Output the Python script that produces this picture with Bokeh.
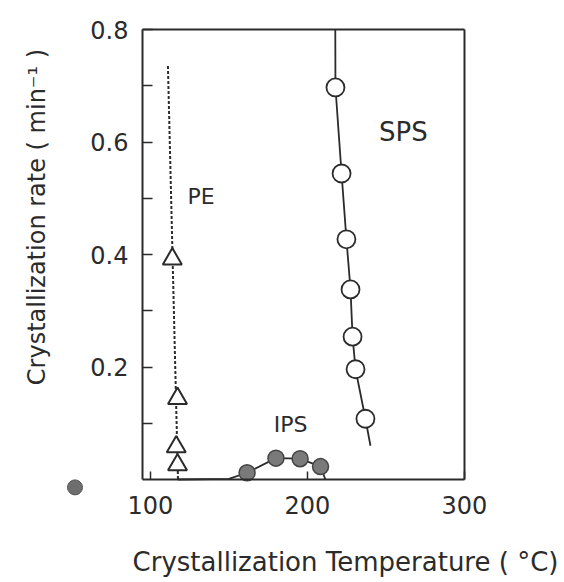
import math
from bokeh.plotting import figure
from bokeh.models import LinearAxis, FixedTicker, Range1d, Label
from bokeh.core.properties import value
from bokeh.embed import file_html
from bokeh.resources import INLINE

# ---------------- data ----------------
# PE : open triangles, dashed line
pe_x = [114.0, 117.3, 116.5, 117.3]
pe_y = [0.392, 0.144, 0.058, 0.026]
pe_line_x = [111.2, 117.6]
pe_line_y = [0.735, 0.0]

# SPS : open circles, solid line
sps_x = [217.9, 221.8, 224.9, 227.5, 228.8, 230.7, 237.0]
sps_y = [0.697, 0.544, 0.427, 0.338, 0.254, 0.196, 0.108]
sps_top = (217.8, 0.8)
sps_end = (240.2, 0.06)

# IPS : filled grey circles, solid line
ips_x = [161.6, 180.0, 195.4, 208.4]
ips_y = [0.012, 0.038, 0.037, 0.023]
ips_start_x = [117.5, 150.0]
ips_start_y = [0.0, 0.001]
ips_end = (211.5, 0.0)
ips_extra_x = [52.0]
ips_extra_y = [-0.014]

x_ticks = [100, 200, 300]
y_ticks = [0.2, 0.4, 0.6, 0.8]
y_minor = [0.1, 0.3, 0.5, 0.7]
x_lim = (95, 300)
y_lim = (0.0, 0.8)

FONT = "DejaVu Sans"
INK = "#2b2b2b"

p = figure(width=564, height=582,
           x_range=Range1d(4.55, 363.8), y_range=Range1d(-0.1831, 0.8516),
           output_backend="svg", toolbar_location=None,
           x_axis_location=None, y_axis_location=None,
           min_border=0, outline_line_color=None,
           background_fill_color="white", border_fill_color="white")
p.grid.visible = False

def style_axis(ax, labels=True, tick_in=10):
    ax.axis_line_color = INK
    ax.axis_line_width = 2
    ax.major_tick_in = tick_in
    ax.major_tick_out = 0
    ax.minor_tick_in = tick_in
    ax.minor_tick_out = 0
    ax.major_tick_line_color = INK
    ax.minor_tick_line_color = INK
    ax.major_tick_line_width = 1.5
    ax.minor_tick_line_width = 1.5
    ax.major_label_text_font = FONT
    ax.major_label_text_font_size = "24px"
    ax.major_label_text_color = INK if labels else None

# left axis
yl = LinearAxis(fixed_location=x_lim[0], bounds=y_lim,
                ticker=FixedTicker(ticks=y_ticks, minor_ticks=y_minor))
style_axis(yl)
yl.major_label_standoff = 14
p.add_layout(yl, "left")

# right border
yr = LinearAxis(fixed_location=x_lim[1], bounds=y_lim,
                ticker=FixedTicker(ticks=[]))
style_axis(yr, labels=False, tick_in=0)
p.add_layout(yr, "right")

# bottom axis
xb = LinearAxis(fixed_location=y_lim[0], bounds=x_lim,
                ticker=FixedTicker(ticks=x_ticks))
style_axis(xb, tick_in=8)
xb.major_label_standoff = 16
p.add_layout(xb, "below")

# top border
xt = LinearAxis(fixed_location=y_lim[1], bounds=x_lim,
                ticker=FixedTicker(ticks=[]))
style_axis(xt, labels=False, tick_in=0)
p.add_layout(xt, "above")

# PE
p.line(pe_line_x, pe_line_y, line_color=INK, line_width=2, line_dash="3 2")
p.scatter(pe_x, pe_y, marker="triangle", size=19, fill_color="white",
          line_color=INK, line_width=2)

# IPS
ips_line_x = ips_start_x + ips_x + [ips_end[0]]
ips_line_y = ips_start_y + ips_y + [ips_end[1]]
p.line(ips_line_x, ips_line_y, line_color=INK, line_width=1.8)
p.scatter(ips_x, ips_y, marker="circle", size=16, fill_color="#7a7a7a",
          line_color="#444444", line_width=1.5)
p.scatter(ips_extra_x, ips_extra_y, marker="circle", size=15, fill_color="#6e6e6e",
          line_color="#555555", line_width=1)

# SPS
sps_line_x = [sps_top[0]] + sps_x + [sps_end[0]]
sps_line_y = [sps_top[1]] + sps_y + [sps_end[1]]
p.line(sps_line_x, sps_line_y, line_color=INK, line_width=1.8)
p.scatter(sps_x, sps_y, marker="circle", size=18, fill_color="white",
          line_color=INK, line_width=1.8)

# series labels
p.add_layout(Label(x=123.7, y=0.503, text="PE", text_font=FONT, text_font_size="22px",
                   text_color=INK, text_align="left", text_baseline="middle"))
p.add_layout(Label(x=189.3, y=0.098, text="IPS", text_font=FONT, text_font_size="22px",
                   text_color=INK, text_align="center", text_baseline="middle"))
p.add_layout(Label(x=261.2, y=0.617, text="SPS", text_font=FONT, text_font_size="26px",
                   text_color=INK, text_align="center", text_baseline="middle"))

# axis titles
p.add_layout(Label(x=224.3, y=-0.1458, text="Crystallization Temperature ( \u00b0C)",
                   text_font=FONT, text_font_size="26px", text_color=INK,
                   text_align="center", text_baseline="middle"))
p.add_layout(Label(x=27.5, y=0.4667, text="Crystallization rate ( min\u207b\u00b9 )",
                   angle=math.pi / 2, text_font=FONT, text_font_size="24px",
                   text_color=INK, text_align="center", text_baseline="middle"))

open("out.html", "w").write(file_html(p, INLINE))
